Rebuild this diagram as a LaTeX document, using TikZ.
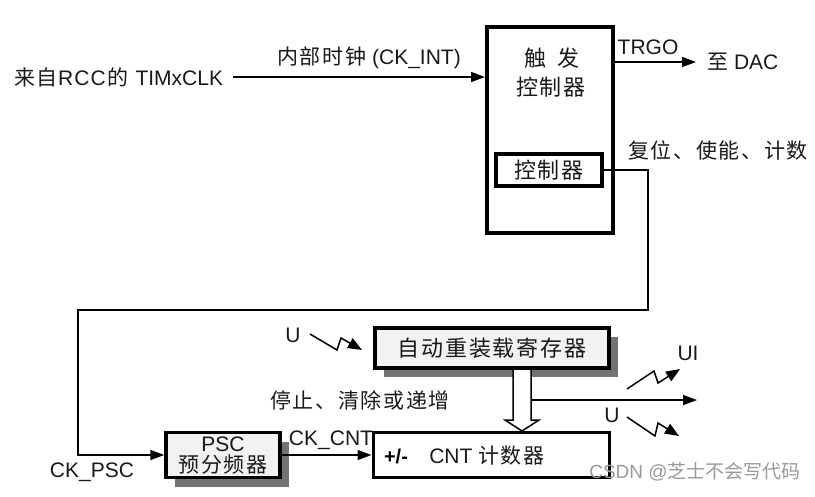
\documentclass[tikz,border=0pt]{standalone}
\usepackage{fontspec}
\setmainfont{Liberation Sans}
\newfontfamily\cjk[LetterSpace=8]{Noto Sans CJK SC}
\newfontfamily\cjkn{Noto Sans CJK SC}
\usetikzlibrary{arrows.meta,shadows,calc}
\newcommand{\zh}[1]{{\cjk #1}}
\begin{document}
\begin{tikzpicture}[x=1pt,y=-1pt,
  lbl/.style={font=\fontsize{21}{22}\selectfont, inner sep=0pt, text=black!90},
  boxtxt/.style={font=\fontsize{22}{22}\selectfont, text=black!90},
  thin/.style={line width=1.5pt},
  tip/.style={-{Triangle[length=14pt,width=10pt]}},
  ltip/.style={-{Triangle[length=14pt,width=11pt]}},
  shadowed/.style={drop shadow={shadow xshift=9pt, shadow yshift=-9pt, fill=black!55, opacity=1}},
  thickbox/.style={draw, line width=3.5pt, inner sep=0pt},
]
\useasboundingbox (0,0) rectangle (815,496);

% source and trigger controller
\node[lbl, anchor=west] (src) at (14,77) {\zh{来}\hspace{1pt}\zh{自}\hspace{1pt}R\hspace{1pt}C\hspace{1pt}C\hspace{2pt}\zh{的}\hspace{1pt} TIMxCLK};
\node[draw, line width=4pt, minimum width=126pt, minimum height=206pt, inner sep=0pt] (trig) at (550,130) {};
\node[boxtxt] (trigA) at (552,58) {\zh{触}\hspace{12pt}\zh{发}};
\node[boxtxt] (trigB) at (551,87) {\zh{控制器}};
\node[thickbox, minimum width=106pt, minimum height=32pt, boxtxt] (ctrl) at (549,170) {\zh{控制器}};

\draw[thin,tip] ([xshift=10pt]src.east) -- (src.east -| trig.west);
\node[lbl] (ckint) at (369,58) {\zh{内部时钟} (CK\_INT)};

\node[lbl] (trgo) at (648,47) {TRGO};
\node[lbl, anchor=west] (dac) at (707,62) {\zh{至} DAC};
\draw[thin,tip] (trig.east |- dac.west) -- ([xshift=-11pt]dac.west);

\node[lbl] (rst) at (718,150) {\zh{复位、使能、计数}};

% lower blocks
\node[thickbox, fill=black!5, minimum width=114pt, minimum height=45pt, shadowed] (psc) at (223,455) {};
\node[font=\fontsize{21}{21}\selectfont, inner sep=0pt, text=black!90] (pscA) at (223,444) {PSC};
\node[boxtxt, font=\fontsize{21}{21}\selectfont, inner sep=0pt] (pscB) at (223,465) {\zh{预分频器}};
\node[thickbox, line width=3pt, fill=white, minimum width=236pt, minimum height=45pt] (cnt) at (491,455) {};
\node[font=\fontsize{20}{20}\selectfont\bfseries, inner sep=0pt] (pm) at (396,456) {+/-};
\node[lbl] (cnttxt) at (487,456) {CNT \zh{计数器}};
\node[thickbox, fill=black!5, minimum width=234pt, minimum height=40pt, shadowed, boxtxt] (arr) at (492,348) {\zh{自动重装载寄存器}};

% feedback line
\coordinate (fb1) at (648,310);
\coordinate (fb2) at (78,310);
\draw[thin,tip] (ctrl.east) -| (fb1) -- (fb2) |- (psc.west);

\node[lbl] (ckpsc) at (92,472) {CK\_PSC};
\node[lbl] (ckcnt) at (331,440) {CK\_CNT};
\draw[thin,tip] (psc.east) -- (cnt.west |- psc.east);

% hollow transfer arrow
\draw[thin, fill=white, line join=miter] (513,370) -- (513,420) -- (505,420) -- (522,431) -- (539,420) -- (531,420) -- (531,370);

% update output
\coordinate (tap) at (531,400);
\coordinate (uo) at (697,400);
\draw[thin,tip] (tap) -- (uo);

\node[lbl] (stop) at (360,400) {\zh{停止、清除或递增}};

% lightning arrows
\node[lbl] (u1) at (293,335) {U};
\draw[thin,ltip] (310,334) -- (337,350) -- (341,338) -- (362,350);
\node[lbl] (ui) at (688,353) {UI};
\draw[thin,ltip] (627,389) -- (654,371) -- (658,383) -- (680,369);
\node[lbl] (u2) at (612,415) {U};
\draw[thin,ltip] (627,417) -- (655,436) -- (658,423) -- (679,436);

% watermark
\node[font=\fontsize{19}{19}\selectfont, text=black!40, inner sep=0pt] (wm) at (695,472) {CSDN @{\cjkn 芝士不会写代码}};
\end{tikzpicture}
\end{document}
